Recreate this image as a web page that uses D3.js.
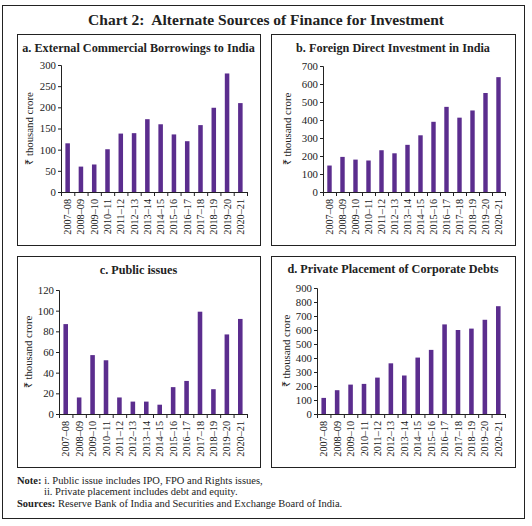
<!DOCTYPE html>
<html><head><meta charset="utf-8">
<script src="https://cdn.jsdelivr.net/npm/d3@7"></script>
<style>body{margin:0;background:#fff}svg{display:block}</style>
</head><body>
<script>
const categories = ["2007–08","2008–09","2009–10","2010–11","2011–12","2012–13","2013–14","2014–15","2015–16","2016–17","2017–18","2018–19","2019–20","2020–21"];
const ecbValues = [115, 60, 65, 101, 138, 139, 172, 160, 136, 120, 158, 199, 280, 210];
const fdiValues = [147, 195, 180, 175, 232, 215, 262, 315, 390, 473, 413, 453, 550, 638];
const publicValues = [87, 16, 57, 52, 16, 12, 12, 9, 26, 32, 99, 24, 77, 92];
const privateValues = [115, 170, 210, 215, 260, 362, 275, 403, 458, 640, 600, 610, 673, 770];
const ecbTicks = [0,50,100,150,200,250,300];
const fdiTicks = [0,100,200,300,400,500,600,700];
const publicTicks = [0,20,40,60,80,100,120];
const privateTicks = [0,100,200,300,400,500,600,700,800,900];

const W=532,H=526, FONT="'Liberation Serif','Times New Roman',serif", COLOR="#5b2d8e", INK="#222";
const svg=d3.select("body").append("svg").attr("width",W).attr("height",H);
svg.append("rect").attr("x",2.5).attr("y",5.5).attr("width",522).attr("height",513).attr("fill","none").attr("stroke",INK).attr("stroke-width",1);
svg.append("text").attr("x",266).attr("y",25).attr("text-anchor","middle").attr("font-family",FONT).attr("font-weight","bold").attr("font-size",15.5).attr("fill",INK).attr("xml:space","preserve").text("Chart 2:  Alternate Sources of Finance for Investment");

function panel(o){
  const g=svg.append("g");
  g.append("rect").attr("x",o.bx+0.5).attr("y",o.by+0.5).attr("width",o.bw).attr("height",o.bh).attr("fill","none").attr("stroke",INK).attr("stroke-width",1);
  g.append("text").attr("x",o.bx+o.bw/2).attr("y",o.ty).attr("text-anchor","middle").attr("font-family",FONT).attr("font-weight","bold").attr("font-size",12.2).attr("fill",INK).text(o.title);
  const x=d3.scaleBand().domain(categories).range([o.x0,o.x1]).paddingInner(0.66).paddingOuter(0.33);
  const y=d3.scaleLinear().domain([0,o.ticks[o.ticks.length-1]]).range([o.y0,o.y1]);
  g.selectAll("rect.bar").data(o.values).join("rect").attr("class","bar")
    .attr("x",(d,i)=>x(categories[i])).attr("width",x.bandwidth())
    .attr("y",d=>y(d)).attr("height",d=>y(0)-y(d)).attr("fill",COLOR);
  const ya=g.append("g").attr("transform",`translate(${o.x0},0)`).call(d3.axisLeft(y).tickValues(o.ticks).tickSize(3).tickPadding(2));
  const xa=g.append("g").attr("transform",`translate(0,${o.y0})`).call(d3.axisBottom(d3.scalePoint().domain(d3.range(categories.length+1)).range([o.x0,o.x1])).tickSize(4).tickFormat(""));
  const xl=g.append("g").attr("transform",`translate(0,${o.y0})`);
  xl.selectAll("text").data(categories).join("text")
    .attr("transform",d=>`translate(${x(d)+x.bandwidth()/2+3.5},7) rotate(-90)`)
    .attr("text-anchor","end").attr("font-family",FONT).attr("font-size",10.2).attr("fill",INK).text(d=>d);
  [ya,xa].forEach(a=>{a.selectAll("path,line").attr("stroke",INK);a.selectAll("text").attr("font-family",FONT).attr("font-size",10.8).attr("fill",INK);});
  g.append("text").attr("transform",`translate(${o.lx},${(o.y0+o.y1)/2}) rotate(-90)`).attr("text-anchor","middle").attr("font-family",FONT).attr("font-size",10.8).attr("fill",INK).text("₹ thousand crore");
}
panel({bx:17,by:34,bw:243,bh:211,ty:52,title:"a. External Commercial Borrowings to India",values:ecbValues,ticks:ecbTicks,x0:61,x1:247,y0:192,y1:65,lx:33});
panel({bx:271,by:34,bw:244,bh:211,ty:52,title:"b. Foreign Direct Investment in India",values:fdiValues,ticks:fdiTicks,x0:323,x1:505,y0:192,y1:66,lx:291});
panel({bx:17,by:256,bw:243,bh:211,ty:274,title:"c. Public issues",values:publicValues,ticks:publicTicks,x0:59,x1:247,y0:414,y1:290,lx:32});
panel({bx:271,by:256,bw:244,bh:211,ty:273,title:"d. Private Placement of Corporate Debts",values:privateValues,ticks:privateTicks,x0:317,x1:505,y0:414,y1:288,lx:290});

const notes=svg.append("g").attr("font-family",FONT).attr("font-size",10.5).attr("fill",INK);
const n1=notes.append("text").attr("x",17).attr("y",484);
n1.append("tspan").attr("font-weight","bold").text("Note:");
n1.append("tspan").text(" i. Public issue includes IPO, FPO and Rights issues,");
notes.append("text").attr("x",44).attr("y",495).text("ii. Private placement includes debt and equity.");
const n3=notes.append("text").attr("x",17).attr("y",507);
n3.append("tspan").attr("font-weight","bold").text("Sources:");
n3.append("tspan").text(" Reserve Bank of India and Securities and Exchange Board of India.");
</script>
</body></html>
